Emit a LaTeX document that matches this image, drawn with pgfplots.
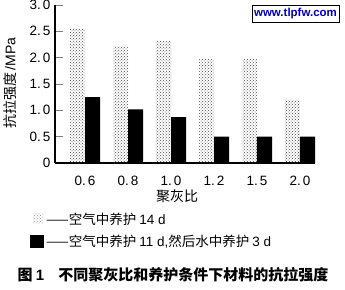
\documentclass[border=0pt]{standalone}
\usepackage{fontspec}
\setmainfont{Liberation Sans}
\newfontfamily\cjk{Noto Sans CJK SC}
\usepackage{pgfplots}
\pgfplotsset{compat=1.18}
\usetikzlibrary{patterns}
\begin{document}
\begin{tikzpicture}
\path[use as bounding box] (-55pt,-126pt) rectangle (290pt,163pt);
\begin{axis}[
  at={(0pt,0pt)}, anchor=south west,
  scale only axis,
  width=260pt, height=158pt,
  xmin=-0.70, xmax=5.35,
  ymin=0, ymax=3.0,
  axis x line=bottom, axis y line=left,
  axis line style={-, line width=1.2pt},
  xtick={0,1,2,3,4,5},
  xticklabels={0.\kern2pt6,0.\kern2pt8,1.\kern2pt0,1.\kern2pt2,1.\kern2pt5,2.\kern2pt0},
  x tick style={draw=none},
  ytick={0,0.5,1,1.5,2,2.5,3},
  yticklabels={0,0.\kern2pt5,1.\kern2pt0,1.\kern2pt5,2.\kern2pt0,2.\kern2pt5,3.\kern2pt0},
  y tick style={line width=0.8pt},
  tick align=inside,
  major tick length=8pt,
  tick label style={font=\fontsize{13.5}{14}\selectfont},
  xticklabel style={yshift=-2pt},
  yticklabel style={xshift=-1pt},
  ybar, bar width=0.35,
  legend style={at={(axis description cs:-0.096,-0.30)}, anchor=north west, draw=none, fill=none,
    font=\fontsize{13.5}{14}\selectfont, row sep=6pt, inner sep=0pt,
    legend cell align=left},
  clip=false,
]
\addplot[draw=none, pattern=crosshatch dots, pattern color=black!70, bar shift=-0.175,
  legend image code/.code={\fill[pattern=crosshatch dots, pattern color=black!45] (3pt,-4pt) rectangle (13pt,6pt);}]
  coordinates {(0,2.55) (1,2.22) (2,2.32) (3,1.98) (4,1.98) (5,1.20)};
\addlegendentry{\cjk ——空气中养护 \rmfamily 14 d}
\addplot[draw=none, fill=black, bar shift=0.175,
  legend image code/.code={\fill[black] (0pt,-6pt) rectangle (14pt,7pt);}]
  coordinates {(0,1.25) (1,1.02) (2,0.87) (3,0.50) (4,0.50) (5,0.50)};
\addlegendentry{\cjk ——空气中养护 \rmfamily 11 d,\cjk 然后水中养护 \rmfamily 3 d}
\end{axis}
\node[rotate=90, font=\fontsize{14}{14}\selectfont] at (-45pt,80pt) {\cjk 抗拉强度\rmfamily\,/MPa};
\node[font=\fontsize{14}{14}\selectfont] at (122pt,-33pt) {\cjk 聚灰比};
\node[draw=black, line width=0.8pt, inner sep=2pt, minimum width=87pt, minimum height=17pt,
  text=blue!70!black, font=\bfseries\fontsize{11.5}{11.5}\selectfont] at (240.5pt,149.5pt) {www.tlpfw.com};
\node[anchor=west, font=\bfseries\fontsize{15}{15}\selectfont] at (-41pt,-112pt) {\cjk 图 \rmfamily 1\hspace{14pt}\cjk 不同聚灰比和养护条件下材料的抗拉强度};
\end{tikzpicture}
\end{document}
